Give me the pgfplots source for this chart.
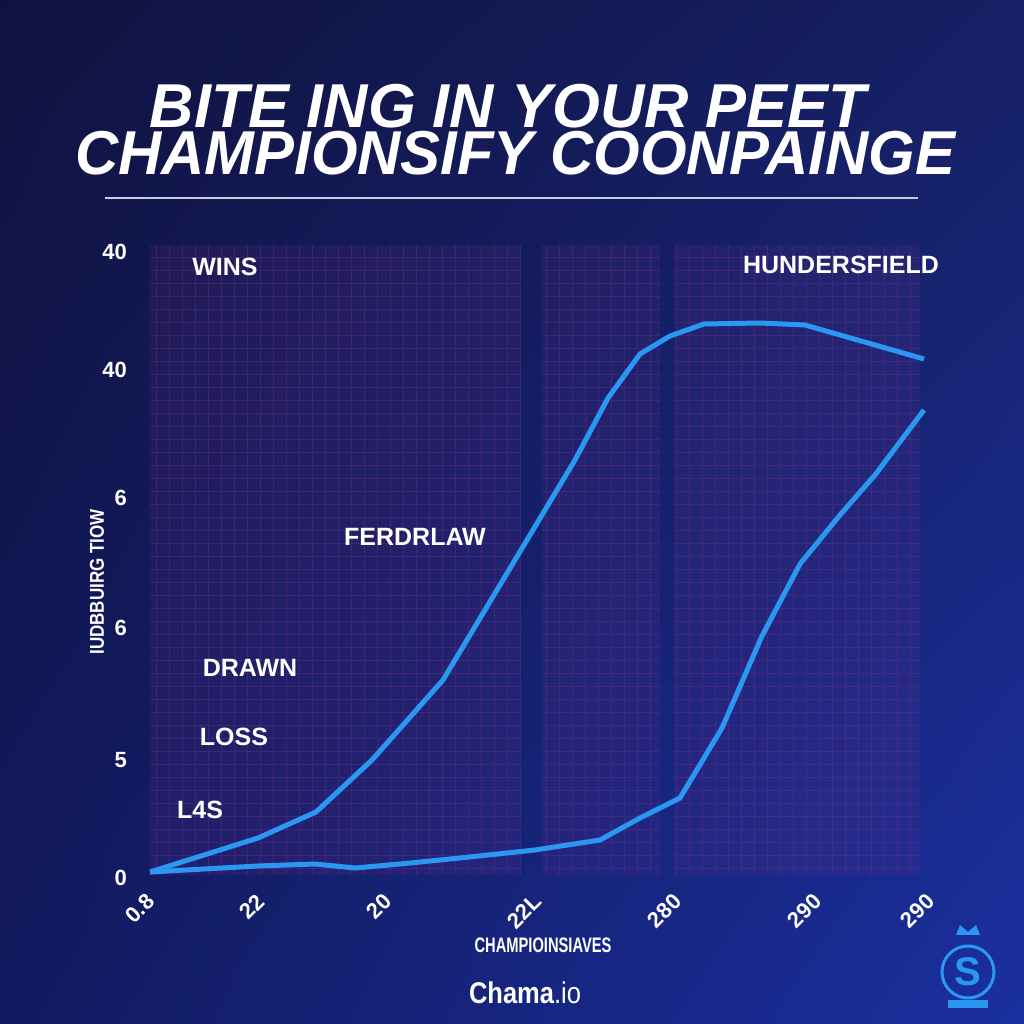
\documentclass[border=0pt]{standalone}
\usepackage{fontspec}
\setmainfont{Liberation Sans}
\usepackage{graphicx}
\usepackage{pgfplots}
\pgfplotsset{compat=1.18}
\usepgfplotslibrary{fillbetween}
\usetikzlibrary{shadings}
\definecolor{bgUL}{RGB}{16,18,62}
\definecolor{bgUR}{RGB}{22,32,100}
\definecolor{bgLL}{RGB}{18,26,96}
\definecolor{bgLR}{RGB}{26,48,160}
\definecolor{lineblue}{RGB}{42,152,242}
\definecolor{fillblue}{RGB}{45,90,215}
\definecolor{gridpurple}{RGB}{120,50,140}
\definecolor{titlegray}{RGB}{200,205,225}
\begin{document}
\begin{tikzpicture}[x=0.5pt,y=0.5pt]
% background
\shade[upper left=bgUL, upper right=bgUR, lower left=bgLL, lower right=bgLR] (0,0) rectangle (1024,1024);
% grid panels
\fill[gridpurple, opacity=0.14] (150,149) rectangle (520,779);
\fill[gridpurple, opacity=0.14] (542,149) rectangle (660,779);
\fill[gridpurple, opacity=0.14] (674,149) rectangle (920,779);
\draw[gridpurple, opacity=0.35, line width=0.3pt, step=13] (150,149) grid (520,779);
\draw[gridpurple, opacity=0.35, line width=0.3pt, step=13] (542,149) grid (660,779);
\draw[gridpurple, opacity=0.35, line width=0.3pt, step=13] (674,149) grid (920,779);
% title
\node[inner sep=0pt, text=white, font=\fontsize{31}{31}\selectfont\bfseries\itshape] at (508,1024-106) {\scalebox{0.99}[1]{BITE ING IN YOUR PEET}};
\node[inner sep=0pt, text=white, font=\fontsize{31}{31}\selectfont\bfseries\itshape] at (515,1024-153) {\scalebox{0.965}[1]{CHAMPIONSIFY COONPAINGE}};
\draw[titlegray, line width=0.8pt] (105,1024-198) -- (918,1024-198);
\begin{axis}[
  at={(74pt,73pt)}, anchor=south west,
  scale only axis, width=390pt, height=316.5pt,
  xmin=148, xmax=928, ymin=0, ymax=633,
  axis x line*=bottom, axis y line*=left,
  axis line style={white, line width=3pt, -},
  tick style={white, line width=3pt},
  major tick length=7pt, tick align=outside,
  xtick={148,258,385,535,675,815,928},
  xticklabels={0.8,22,20,22L,280,290,290},
  ytick={0,118,250,380,508,626},
  yticklabels={0,5,6,6,40,40},
  xticklabel style={rotate=45, anchor=east, inner sep=1pt, yshift=-3pt, font=\fontsize{11}{11}\selectfont\bfseries, text=white},
  yticklabel style={font=\fontsize{11}{11}\selectfont\bfseries, text=white},
  clip=false,
]
\addplot[name path=up, lineblue, line width=2.5pt, line join=round] coordinates {
(150,6) (258,40) (316,66) (372,118) (443,198) (515,318) (575,418) (608,480) (640,524) (670,542) (704,554) (760,555) (805,553) (924,519)};
\addplot[name path=lo, lineblue, line width=2.5pt, line join=round] coordinates {
(150,6) (258,12) (315,14) (355,10) (400,14) (460,20) (535,28) (600,38) (640,60) (680,80) (722,150) (762,242) (800,314) (840,363) (875,403) (924,468)};
\addplot[fillblue, fill opacity=0.35, draw=none] fill between[of=up and lo];
\node[text=white, font=\fontsize{12.5}{12.5}\selectfont\bfseries] at (axis cs:225,611) {WINS};
\node[text=white, font=\fontsize{12.5}{12.5}\selectfont\bfseries] at (axis cs:841,613) {HUNDERSFIELD};
\node[text=white, font=\fontsize{12.5}{12.5}\selectfont\bfseries] at (axis cs:415,341) {FERDRLAW};
\node[text=white, font=\fontsize{12.5}{12.5}\selectfont\bfseries] at (axis cs:250,210) {DRAWN};
\node[text=white, font=\fontsize{12.5}{12.5}\selectfont\bfseries] at (axis cs:234,141) {LOSS};
\node[text=white, font=\fontsize{12.5}{12.5}\selectfont\bfseries] at (axis cs:200,68) {L4S};
\end{axis}
% axis labels
\node[rotate=90, text=white, font=\fontsize{10}{10}\selectfont\bfseries] at (97,1024-582) {\scalebox{0.85}[1]{IUDBBUIRG TIOW}};
\node[text=white, font=\fontsize{10.5}{10.5}\selectfont\bfseries] at (543,1024-945) {\scalebox{0.7}[1]{CHAMPIOINSIAVES}};
\node[text=white, font=\fontsize{15}{15}\selectfont\bfseries] at (525,1024-993) {\scalebox{0.85}[1]{Chama}\textmd{\scalebox{0.85}[1]{.io}}};
% logo
\node[circle, draw=lineblue, line width=1.5pt, text=lineblue, minimum size=26pt, inner sep=0pt, font=\fontsize{20}{20}\selectfont\bfseries] at (968,1024-972) {S};
\fill[lineblue] (948,1024-1000) rectangle (988,1024-1008);
\fill[lineblue] (956,1024-935) -- (960,1024-925) -- (968,1024-932) -- (976,1024-925) -- (980,1024-935) -- cycle;
\end{tikzpicture}
\end{document}
